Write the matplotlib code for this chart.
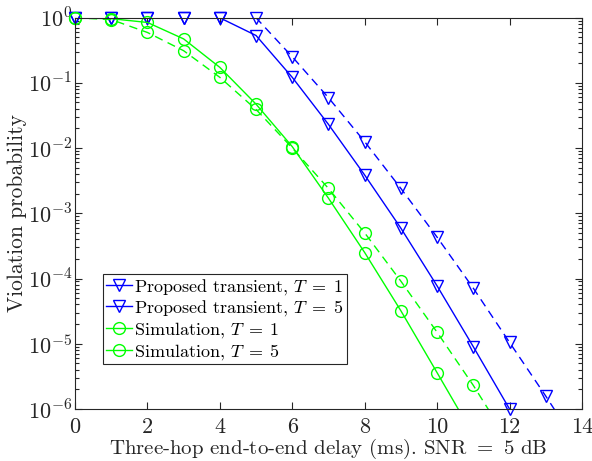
import numpy as np
import matplotlib
matplotlib.use("Agg")
import matplotlib.pyplot as plt
from matplotlib.lines import Line2D
from matplotlib.ticker import LogLocator, FixedLocator, NullFormatter

plt.rcParams['font.family'] = ['cmr10', 'DejaVu Serif']
plt.rcParams['mathtext.fontset'] = 'cm'
plt.rcParams['axes.formatter.use_mathtext'] = True

delay = [0, 1, 2, 3, 4, 5, 6, 7, 8, 9, 10, 11, 12, 13, 14]
prop_T1 = [1.0, 1.0, 1.0, 1.0, 1.0, 0.99, 0.25, 0.059, 0.0125, 0.0024,
           4.3e-4, 7.1e-5, 1.05e-5, 1.58e-6, 2.2e-7]
prop_T5 = [1.0, 1.0, 1.0, 1.0, 0.99, 0.53, 0.121, 0.023, 0.00385, 5.9e-4,
           7.7e-5, 9.0e-6, 1.0e-6]
sim_T1 = [0.99, 0.93, 0.59, 0.31, 0.121, 0.039, 0.0100, 0.0024, 5.0e-4,
          9.1e-5, 1.5e-5, 2.3e-6, 3.0e-7]
sim_T5 = [0.99, 0.96, 0.84, 0.47, 0.172, 0.047, 0.0105, 0.0017, 2.5e-4,
          3.2e-5, 3.6e-6, 4.0e-7]

labels = ["Proposed transient, $T\\;=\\;1$", "Proposed transient, $T\\;=\\;5$",
          "Simulation, $T\\;=\\;1$", "Simulation, $T\\;=\\;5$"]
xticks = [0, 2, 4, 6, 8, 10, 12, 14]
yticks = [1e-6, 1e-5, 1e-4, 1e-3, 1e-2, 1e-1, 1e0]
ylabels = ["$10^{-6}$", "$10^{-5}$", "$10^{-4}$", "$10^{-3}$", "$10^{-2}$", "$10^{-1}$", "$10^{0}$"]

series = [
    (prop_T1, 'blue', (0, (6, 4)), 'v'),
    (prop_T5, 'blue', '-', 'v'),
    (sim_T1, '#00ff00', (0, (6, 4)), 'o'),
    (sim_T5, '#00ff00', '-', 'o'),
]

fig = plt.figure(figsize=(5.92, 4.61), dpi=100)
ax = fig.add_axes([0.1267, 0.1128, 0.8563, 0.8492])
ymin = 1e-6
handles = []
for (vals, col, ls, mk), lab in zip(series, labels):
    x = np.array(delay[:len(vals)], dtype=float)
    y = np.array(vals)
    ax.plot(x, y, color=col, linestyle=ls, linewidth=1.0)
    keep = y >= ymin * 0.999
    ax.plot(x[keep], y[keep], linestyle='none', marker=mk, markersize=8.5,
            markerfacecolor='none', markeredgecolor=col, markeredgewidth=1.0,
            clip_on=False)
    handles.append(Line2D([], [], color=col, linestyle='-', linewidth=1.0,
                          marker=mk, markersize=8.5, markerfacecolor='none',
                          markeredgecolor=col, markeredgewidth=1.0))

ax.set_yscale('log')
ax.set_xlim(0, 14)
ax.set_ylim(1e-6, 1)
ax.xaxis.set_major_locator(FixedLocator(xticks))
ax.set_xticklabels([str(t) for t in xticks])
ax.set_yticks(yticks)
ax.set_yticklabels(ylabels)
ax.yaxis.set_minor_locator(LogLocator(base=10, subs=np.arange(2, 10), numticks=20))
ax.yaxis.set_minor_formatter(NullFormatter())

tc = '#262626'
ax.tick_params(which='both', direction='in', top=True, right=True,
               colors=tc, labelsize=16, width=0.8)
ax.tick_params(which='major', length=5)
ax.tick_params(which='minor', length=3)
ax.tick_params(axis='x', pad=6)
ax.tick_params(axis='y', pad=2)
for s in ax.spines.values():
    s.set_color(tc)
    s.set_linewidth(0.8)

ax.set_xlabel("Three-hop end-to-end delay (ms). SNR $=$ 5 dB", fontsize=15, color=tc)
ax.xaxis.set_label_coords(0.5, -0.07)
ax.set_ylabel("Violation probability", fontsize=15.5, color=tc, va='center')
ax.yaxis.set_label_coords(-0.113, 0.5)

leg = ax.legend(handles, labels, loc='upper left', bbox_to_anchor=(0.055, 0.345),
                fontsize=13, frameon=True, fancybox=False, framealpha=1,
                edgecolor='#262626', handlelength=1.45, handletextpad=0.15,
                borderpad=0.15, labelspacing=0.1, borderaxespad=0)
leg.get_frame().set_linewidth(0.8)

fig.savefig('out.png', dpi=100)
